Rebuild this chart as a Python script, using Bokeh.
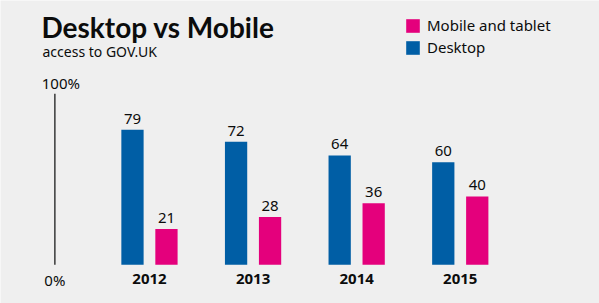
from bokeh.plotting import figure
from bokeh.models import ColumnDataSource, Label, Legend, LegendItem, Range1d
from bokeh.core.properties import value
from bokeh.embed import file_html
from bokeh.resources import INLINE

# ---- data ----
years = ["2012", "2013", "2014", "2015"]
desktop = [79, 72, 64, 60]
mobile = [21, 28, 36, 40]
axis_ticks = [0, 100]
axis_tick_labels = ["0%", "100%"]
title_text = "Desktop vs Mobile"
subtitle_text = "access to GOV.UK"
series_names = ["Mobile and tablet", "Desktop"]

# ---- style ----
BG = "#efefef"
BLUE = "#005ea5"
PINK = "#e4007c"
INK = "#0b0c0c"
FONT = "Noto Sans"
TFONT = "Lato"
W, H = 599, 303
OFF = 0.164     # dodge offset of each bar from group centre
BW = 0.215      # bar width
AXIS_X = -0.913 # position of the vertical scale line (x units)

idx = list(range(len(years)))
src = ColumnDataSource(dict(
    i=idx,
    xd=[i - OFF for i in idx],
    xm=[i + OFF for i in idx],
    desktop=desktop,
    mobile=mobile,
    dlab=[str(v) for v in desktop],
    mlab=[str(v) for v in mobile],
    year=years,
    zero=[0] * len(years),
))

p = figure(width=W, height=H, output_backend="svg", toolbar_location=None,
           x_axis_type=None, y_axis_type=None,
           x_range=Range1d(-1.438, 4.344), y_range=Range1d(-22.6, 154.6),
           min_border=0, min_border_left=0, min_border_right=0,
           min_border_top=0, min_border_bottom=0,
           background_fill_color=BG, border_fill_color=BG, outline_line_color=None)
p.xgrid.visible = False
p.ygrid.visible = False

rd = p.vbar(x="xd", top="desktop", bottom=0, width=BW, source=src,
            fill_color=BLUE, line_color=None)
rm = p.vbar(x="xm", top="mobile", bottom=0, width=BW, source=src,
            fill_color=PINK, line_color=None)

# value labels
p.text(x="xd", y="desktop", text="dlab", source=src, text_align="center",
       text_baseline="middle", y_offset=-11, text_font=value(FONT),
       text_font_size="15px", text_color=INK)
p.text(x="xm", y="mobile", text="mlab", source=src, text_align="center",
       text_baseline="middle", y_offset=-11, text_font=value(FONT),
       text_font_size="15px", text_color=INK)

# year labels
p.text(x="i", y="zero", text="year", source=src, text_align="center",
       text_baseline="middle", y_offset=14, text_font=value(FONT),
       text_font_size="15px", text_font_style="bold", text_color=INK)

# vertical scale line and its labels
p.segment(x0=[AXIS_X], y0=[axis_ticks[0]], x1=[AXIS_X], y1=[axis_ticks[1]],
          line_color=INK, line_width=1.2)
p.text(x=[AXIS_X], y=[axis_ticks[0]], text=[axis_tick_labels[0]],
       text_align="center", text_baseline="middle", y_offset=15,
       text_font=value(FONT), text_font_size="15px", text_color=INK)
p.text(x=[AXIS_X], y=[axis_ticks[1]], text=[axis_tick_labels[1]],
       text_align="center", text_baseline="middle", y_offset=-11, x_offset=6,
       text_font=value(FONT), text_font_size="15px", text_color=INK)

# title & subtitle
p.add_layout(Label(x=41, y=H - 26, x_units="screen", y_units="screen",
                   text=title_text, text_font=TFONT, text_font_size="28px",
                   text_font_style="bold", text_color=INK,
                   text_baseline="middle"))
p.add_layout(Label(x=42, y=H - 51, x_units="screen", y_units="screen",
                   text=subtitle_text, text_font=FONT, text_font_size="14px",
                   text_color=INK, text_baseline="middle"))

# legend
legend = Legend(items=[LegendItem(label=series_names[0], renderers=[rm]),
                       LegendItem(label=series_names[1], renderers=[rd])],
                location=(404, 246), orientation="vertical",
                glyph_width=17, glyph_height=17, label_standoff=6,
                label_height=17, spacing=2, padding=0, margin=0,
                label_text_font=FONT, label_text_font_size="15px",
                label_text_color=INK, background_fill_alpha=0,
                border_line_color=None)
p.add_layout(legend)

open("out.html", "w").write(file_html(p, INLINE))
